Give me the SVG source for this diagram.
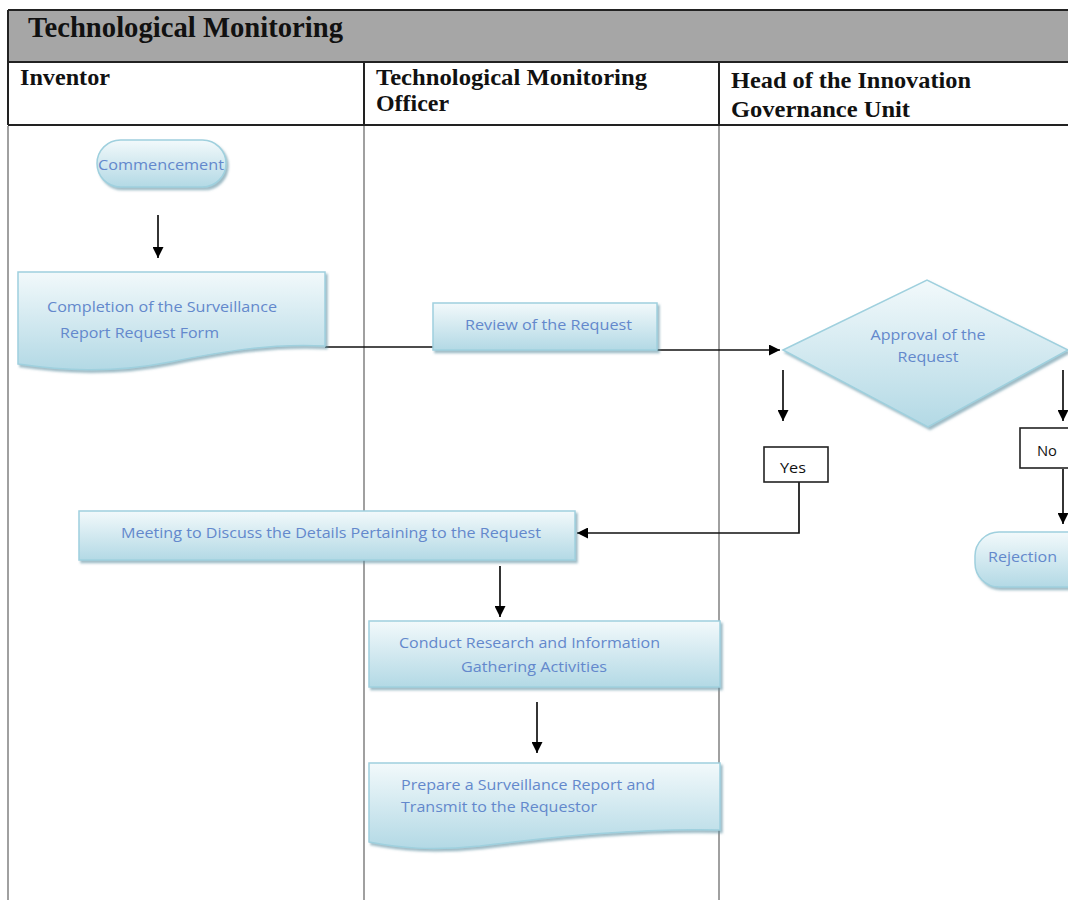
<svg xmlns="http://www.w3.org/2000/svg" width="1068" height="900" viewBox="0 0 1068 900">
  <defs>
    <linearGradient id="boxFill" x1="0" y1="0" x2="0" y2="1">
      <stop offset="0" stop-color="#f2f9fb"/>
      <stop offset="1" stop-color="#b3d9e5"/>
    </linearGradient>
    <filter id="shadow" x="-5%" y="-10%" width="115%" height="130%">
      <feDropShadow dx="2" dy="2.5" stdDeviation="1" flood-color="#5f8fa0" flood-opacity="0.6"/>
    </filter>
    <marker id="arrow" viewBox="0 0 10 10" refX="10" refY="5" markerWidth="11" markerHeight="11" markerUnits="userSpaceOnUse" orient="auto">
      <path d="M0,0 L10,5 L0,10 Z" fill="#000"/>
    </marker>
    <style>
      .title { font-family: "Liberation Serif", "Times New Roman", serif; font-weight: bold; fill: #111; }
      .shape { fill: url(#boxFill); stroke: #9fd0de; stroke-width: 1.5; filter: url(#shadow); }
      .label { font-family: "Open Sans", "Noto Sans", sans-serif; font-size: 14px; fill: #6388cc; }
      .tag { fill: #fff; stroke: #222; stroke-width: 1.6; }
      .tagtext { font-family: "Open Sans", "Noto Sans", sans-serif; font-size: 14px; fill: #111; }
      .lane { stroke: #a0a0a0; stroke-width: 2; fill: none; }
      .rule { stroke: #222; stroke-width: 2; fill: none; }
      .conn { stroke: #111; stroke-width: 1.7; fill: none; }
    </style>
  </defs>

  <rect x="0" y="0" width="1068" height="900" fill="#fff"/>

  <!-- Swimlane frame -->
  <g id="frame">
    <rect x="8" y="10" width="1062" height="52" fill="#a6a6a6"/>
    <line class="rule" x1="8" y1="10" x2="1068" y2="10"/>
    <line class="rule" x1="8" y1="62" x2="1068" y2="62"/>
    <line class="rule" x1="8" y1="125" x2="1068" y2="125"/>
    <line class="rule" x1="8" y1="10" x2="8" y2="125"/>
    <line class="rule" x1="364" y1="62" x2="364" y2="125"/>
    <line class="rule" x1="719" y1="62" x2="719" y2="125"/>
    <line class="lane" x1="8" y1="126" x2="8" y2="900"/>
    <line class="lane" x1="364" y1="126" x2="364" y2="900"/>
    <line class="lane" x1="719" y1="126" x2="719" y2="900"/>
    <text class="title" x="28" y="37" font-size="29" textLength="315" lengthAdjust="spacingAndGlyphs">Technological Monitoring</text>
    <text class="title" x="20" y="85" font-size="24" textLength="90" lengthAdjust="spacingAndGlyphs">Inventor</text>
    <text class="title" x="376" y="85" font-size="24" textLength="271" lengthAdjust="spacingAndGlyphs">Technological Monitoring</text>
    <text class="title" x="376" y="111" font-size="24" textLength="73" lengthAdjust="spacingAndGlyphs">Officer</text>
    <text class="title" x="731" y="88" font-size="24" textLength="240" lengthAdjust="spacingAndGlyphs">Head of the Innovation</text>
    <text class="title" x="731" y="117" font-size="24" textLength="179" lengthAdjust="spacingAndGlyphs">Governance Unit</text>
  </g>

  <!-- Connectors -->
  <g id="connectors">
    <line class="conn" x1="158" y1="215" x2="158" y2="258" marker-end="url(#arrow)"/>
    <line class="conn" x1="325" y1="347" x2="433" y2="347"/>
    <line class="conn" x1="657" y1="350" x2="780" y2="350" marker-end="url(#arrow)"/>
    <line class="conn" x1="783" y1="370" x2="783" y2="421" marker-end="url(#arrow)"/>
    <polyline class="conn" points="799,482 799,533 577,533" marker-end="url(#arrow)"/>
    <line class="conn" x1="1063" y1="370" x2="1063" y2="421" marker-end="url(#arrow)"/>
    <line class="conn" x1="1063" y1="469" x2="1063" y2="524" marker-end="url(#arrow)"/>
    <line class="conn" x1="500" y1="566" x2="500" y2="617" marker-end="url(#arrow)"/>
    <line class="conn" x1="537" y1="702" x2="537" y2="753" marker-end="url(#arrow)"/>
  </g>

  <!-- Nodes -->
  <g id="commencement">
    <rect class="shape" x="97" y="140" width="129" height="47" rx="23.5"/>
    <text class="label" x="161" y="170" text-anchor="middle" textLength="126" lengthAdjust="spacingAndGlyphs">Commencement</text>
  </g>

  <g id="completion">
    <path class="shape" d="M18,272 H325 V346 C270,343 220,352 170,362 C110,374 60,370 18,364 Z"/>
    <text class="label" x="47" y="312" textLength="230" lengthAdjust="spacingAndGlyphs">Completion of the Surveillance</text>
    <text class="label" x="60" y="338" textLength="159" lengthAdjust="spacingAndGlyphs">Report Request Form</text>
  </g>

  <g id="review">
    <rect class="shape" x="433" y="303" width="224" height="47"/>
    <text class="label" x="465" y="330" textLength="167" lengthAdjust="spacingAndGlyphs">Review of the Request</text>
  </g>

  <g id="approval">
    <polygon class="shape" points="783,350 927,280 1068,350 928,427"/>
    <text class="label" x="928" y="340" text-anchor="middle" textLength="115" lengthAdjust="spacingAndGlyphs">Approval of the</text>
    <text class="label" x="928" y="362" text-anchor="middle" textLength="61" lengthAdjust="spacingAndGlyphs">Request</text>
  </g>

  <g id="yes">
    <rect class="tag" x="764" y="447" width="64" height="35"/>
    <text class="tagtext" x="793" y="473" text-anchor="middle" textLength="26" lengthAdjust="spacingAndGlyphs">Yes</text>
  </g>

  <g id="no">
    <rect class="tag" x="1020" y="428" width="60" height="40"/>
    <text class="tagtext" x="1047" y="456" text-anchor="middle" textLength="20" lengthAdjust="spacingAndGlyphs">No</text>
  </g>

  <g id="rejection">
    <rect class="shape" x="975" y="532" width="120" height="55" rx="24"/>
    <text class="label" x="988" y="562" textLength="69" lengthAdjust="spacingAndGlyphs">Rejection</text>
  </g>

  <g id="meeting">
    <rect class="shape" x="79" y="511" width="496" height="49"/>
    <text class="label" x="121" y="538" textLength="420" lengthAdjust="spacingAndGlyphs">Meeting to Discuss the Details Pertaining to the Request</text>
  </g>

  <g id="research">
    <rect class="shape" x="369" y="621" width="351" height="66"/>
    <text class="label" x="399" y="648" textLength="261" lengthAdjust="spacingAndGlyphs">Conduct Research and Information</text>
    <text class="label" x="461" y="672" textLength="146" lengthAdjust="spacingAndGlyphs">Gathering Activities</text>
  </g>

  <g id="report">
    <path class="shape" d="M369,763 H720 V830 C640,828 560,836 480,846 C430,851 400,848 369,842 Z"/>
    <text class="label" x="401" y="790" textLength="254" lengthAdjust="spacingAndGlyphs">Prepare a Surveillance Report and</text>
    <text class="label" x="401" y="812" textLength="196" lengthAdjust="spacingAndGlyphs">Transmit to the Requestor</text>
  </g>
</svg>
